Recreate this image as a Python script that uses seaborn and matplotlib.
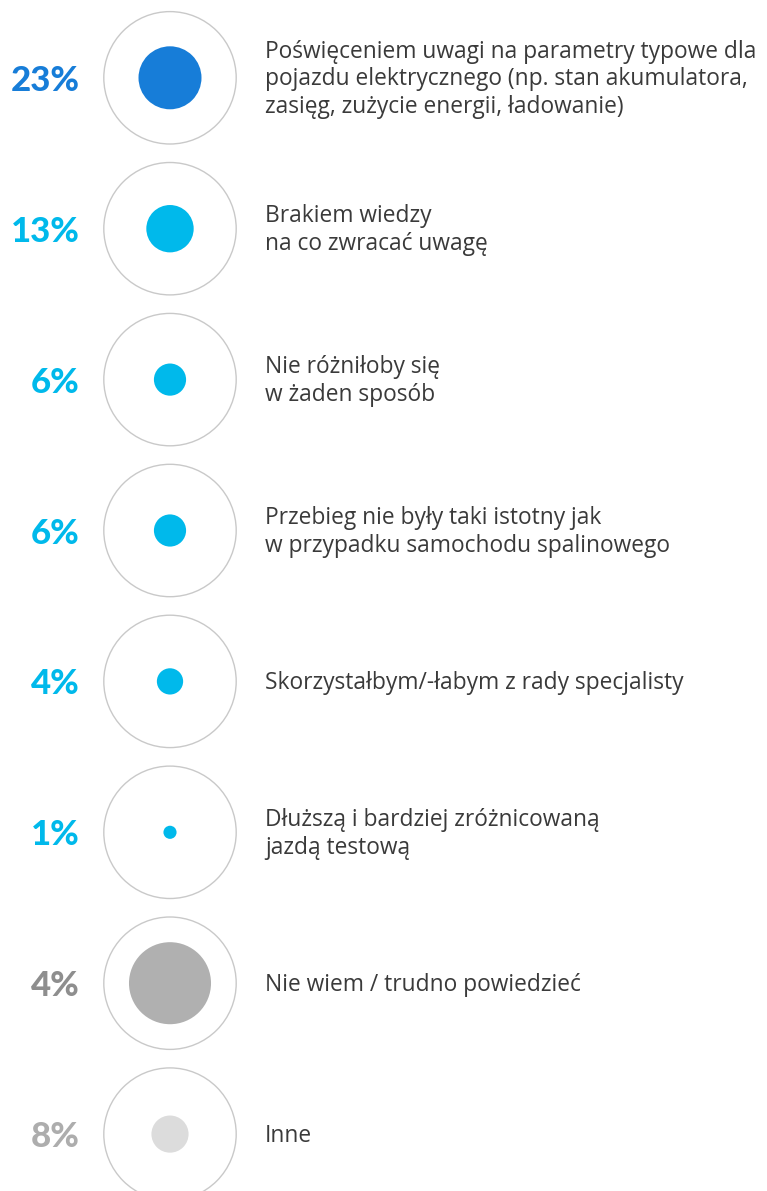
import matplotlib
matplotlib.use("Agg")
import matplotlib.pyplot as plt
import seaborn as sns
import pandas as pd
import numpy as np

# ---- data ----
categories = [
    "Poświęceniem uwagi na parametry typowe dla\npojazdu elektrycznego (np. stan akumulatora,\nzasięg, zużycie energii, ładowanie)",
    "Brakiem wiedzy\nna co zwracać uwagę",
    "Nie różniłoby się\nw żaden sposób",
    "Przebieg nie były taki istotny jak\nw przypadku samochodu spalinowego",
    "Skorzystałbym/-łabym z rady specjalisty",
    "Dłuższą i bardziej zróżnicowaną\njazdą testową",
    "Nie wiem / trudno powiedzieć",
    "Inne",
]
# dot area encodes these values
values = [23, 13, 6, 6, 4, 1, 39, 8]
pct_labels = ["23%", "13%", "6%", "6%", "4%", "1%", "4%", "8%"]

# ---- styles ----
dot_colors = ["#177DD8", "#00B9EB", "#00B9EB", "#00B9EB", "#00B9EB", "#00B9EB", "#B0B0B0", "#DCDCDC"]
pct_colors = ["#177DD8", "#00B9EB", "#00B9EB", "#00B9EB", "#00B9EB", "#00B9EB", "#8E8E8E", "#ADADAD"]

W, H, DPI = 767, 1191, 100
row0, step = 77.8, 150.9
px2pt = 72.0 / DPI
r23 = 31.5  # px radius for the 23% dot
k = (2 * r23 * px2pt) ** 2 / 23.0  # area per unit value
outer_s = (2 * 66.2 * px2pt) ** 2

sns.set_theme(style="white")
plt.rcParams["font.family"] = ["Open Sans", "DejaVu Sans"]

df = pd.DataFrame({
    "cat": categories,
    "val": values,
    "row": np.arange(len(categories)),
    "x": 170.0,
})

fig = plt.figure(figsize=(W / DPI, H / DPI), dpi=DPI)
ax = fig.add_axes([0, 0, 1, 1])

# outer rings
sns.scatterplot(data=df, x="x", y="row", s=outer_s, facecolor="none",
                edgecolor="#C9C9C9", linewidth=1.0, ax=ax, legend=False)
# inner dots
sns.scatterplot(data=df, x="x", y="row", hue="cat", palette=dot_colors,
                size="val", sizes=(k * min(values), k * max(values)),
                size_norm=(min(values), max(values)),
                linewidth=0, ax=ax, legend=False)

for i, (cat, lab) in enumerate(zip(categories, pct_labels)):
    ax.text(80, i + 0.02, lab, ha="right", va="center", fontsize=25, fontweight=900,
            color=pct_colors[i], family=["Lato", "DejaVu Sans"])
    ax.text(265, i + 0.01, cat, ha="left", va="center", fontsize=16.4,
            color="#3A3A3A", linespacing=1.2)

ax.set_xlim(0, W)
ax.set_ylim((H - row0) / step, -row0 / step)
ax.axis("off")

fig.savefig("out.png", dpi=DPI, facecolor="white")
